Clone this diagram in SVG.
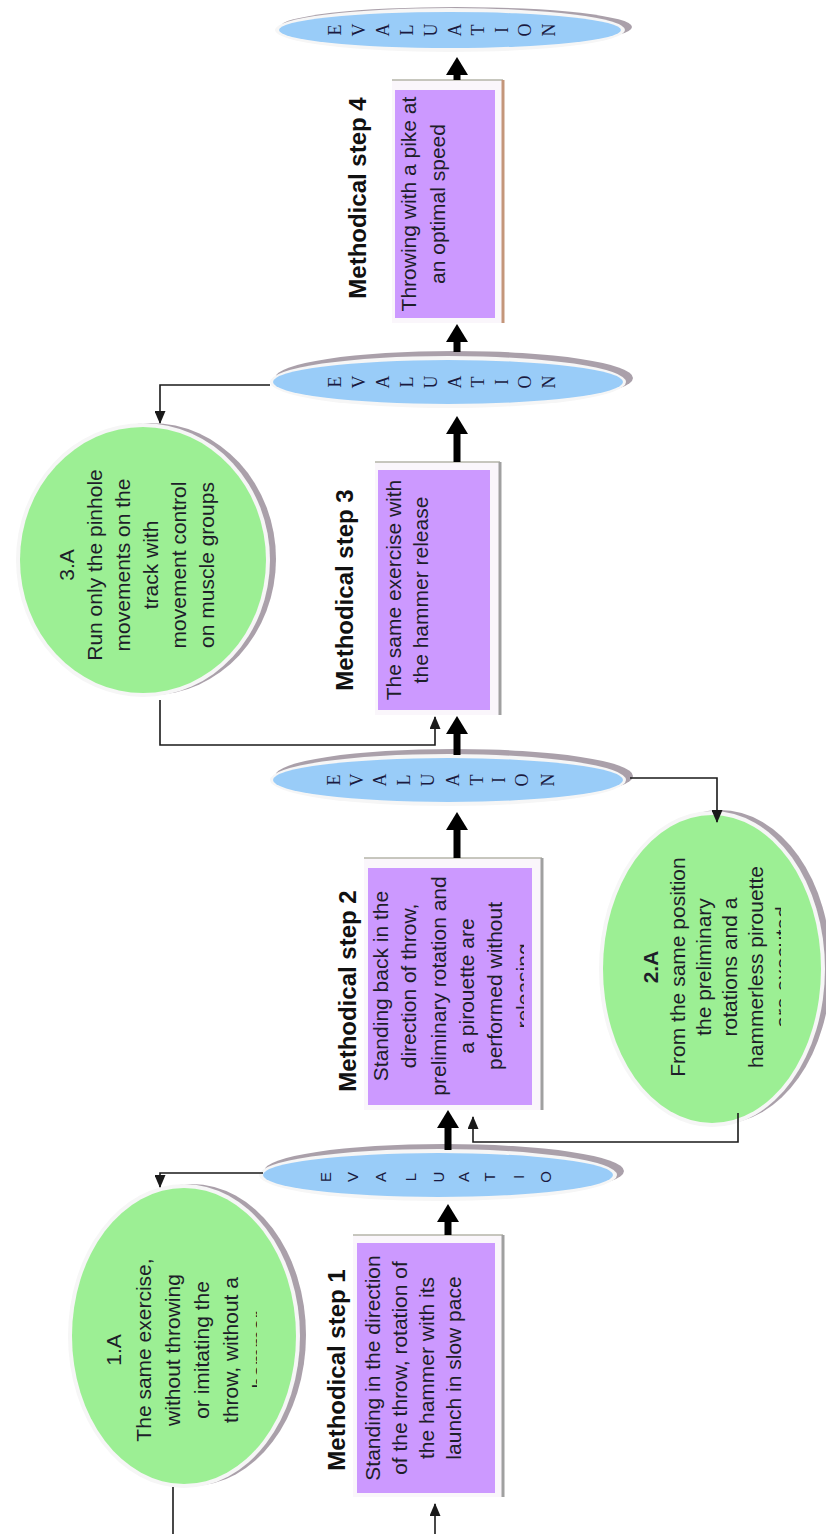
<svg xmlns="http://www.w3.org/2000/svg" width="826" height="1534" viewBox="0 0 826 1534">
<style>
.body{font-family:"Liberation Sans",Arial,sans-serif;font-size:21px;fill:#1e1e2a;text-anchor:middle;dominant-baseline:central}
.lbl{font-family:"Liberation Sans",Arial,sans-serif;font-size:24px;font-weight:bold;fill:#111;text-anchor:middle;dominant-baseline:central}
.ev{font-family:"Liberation Serif","Times New Roman",serif;font-size:18px;fill:#1a1a40;text-anchor:middle;dominant-baseline:central}
.ev2{font-family:"Liberation Sans",Arial,sans-serif;font-size:15px;fill:#1a1a40;text-anchor:middle;dominant-baseline:central}
.purple{fill:#cc99ff}
.frame{fill:#faf6fb}
.edgeT{stroke:#b4b4a8;stroke-width:1.5;fill:none}
.edgeR{stroke:#a0a0a0;stroke-width:3;fill:none}
.green{fill:#9cef94}
.blue{fill:#99ccf8}
.halo{fill:#f6f6f6}
.shadow{fill:#aaa0aa}
.thick{stroke:#000;stroke-width:7;fill:none;marker-end:url(#hThick)}
.thin{stroke:#1a1a1a;stroke-width:1.6;fill:none}
.thinA{marker-end:url(#hThin)}
</style>
<defs>
<marker id="hThick" viewBox="0 0 18 22" refX="8" refY="11" markerWidth="18" markerHeight="22" markerUnits="userSpaceOnUse" orient="auto">
<path d="M0,0 L18,11 L0,22 z" fill="#000"/>
</marker>
<marker id="hThin" viewBox="0 0 13 11" refX="12" refY="5.5" markerWidth="13" markerHeight="11" markerUnits="userSpaceOnUse" orient="auto">
<path d="M0,0 L13,5.5 L0,11 z" fill="#1a1a1a"/>
</marker>
<clipPath id="clipS2" clipPathUnits="userSpaceOnUse"><rect x="0" y="0" width="524" height="1534"/></clipPath>
<clipPath id="clip1A" clipPathUnits="userSpaceOnUse"><rect x="0" y="0" width="257" height="1534"/></clipPath>
<clipPath id="clip2A" clipPathUnits="userSpaceOnUse"><rect x="0" y="0" width="781" height="1534"/></clipPath>
</defs>
<rect width="826" height="1534" fill="#ffffff"/>

<!-- Evaluation ellipses -->
<g id="eval1">
<ellipse class="shadow" cx="456" cy="27" rx="176" ry="20"/>
<ellipse class="halo" cx="450" cy="30" rx="175" ry="22"/>
<ellipse class="blue" cx="450" cy="30" rx="171" ry="18"/>
<g class="ev">
<text transform="translate(335,30) rotate(-90)">E</text>
<text transform="translate(359,30) rotate(-90)">V</text>
<text transform="translate(383,30) rotate(-90)">A</text>
<text transform="translate(407,30) rotate(-90)">L</text>
<text transform="translate(431,30) rotate(-90)">U</text>
<text transform="translate(455,30) rotate(-90)">A</text>
<text transform="translate(478,30) rotate(-90)">T</text>
<text transform="translate(502,30) rotate(-90)">I</text>
<text transform="translate(525,30) rotate(-90)">O</text>
<text transform="translate(549,30) rotate(-90)">N</text>
</g>
</g>

<g id="eval2">
<ellipse class="shadow" cx="454" cy="378" rx="179" ry="27"/>
<ellipse class="halo" cx="448" cy="382" rx="178" ry="26"/>
<ellipse class="blue" cx="448" cy="382" rx="175" ry="22"/>
<g class="ev">
<text transform="translate(335,382) rotate(-90)">E</text>
<text transform="translate(359,382) rotate(-90)">V</text>
<text transform="translate(383,382) rotate(-90)">A</text>
<text transform="translate(407,382) rotate(-90)">L</text>
<text transform="translate(431,382) rotate(-90)">U</text>
<text transform="translate(455,382) rotate(-90)">A</text>
<text transform="translate(478,382) rotate(-90)">T</text>
<text transform="translate(502,382) rotate(-90)">I</text>
<text transform="translate(525,382) rotate(-90)">O</text>
<text transform="translate(549,382) rotate(-90)">N</text>
</g>
</g>

<g id="eval3">
<ellipse class="shadow" cx="454" cy="776" rx="179" ry="27"/>
<ellipse class="halo" cx="448" cy="780" rx="178" ry="26"/>
<ellipse class="blue" cx="448" cy="780" rx="175" ry="22"/>
<g class="ev">
<text transform="translate(334,780) rotate(-90)">E</text>
<text transform="translate(357,780) rotate(-90)">V</text>
<text transform="translate(380,780) rotate(-90)">A</text>
<text transform="translate(404,780) rotate(-90)">L</text>
<text transform="translate(428,780) rotate(-90)">U</text>
<text transform="translate(453,780) rotate(-90)">A</text>
<text transform="translate(477,780) rotate(-90)">T</text>
<text transform="translate(499,780) rotate(-90)">I</text>
<text transform="translate(522,780) rotate(-90)">O</text>
<text transform="translate(548,780) rotate(-90)">N</text>
</g>
</g>

<g id="eval4">
<ellipse class="shadow" cx="444" cy="1171" rx="180" ry="27"/>
<ellipse class="halo" cx="438" cy="1175" rx="179" ry="26"/>
<ellipse class="blue" cx="438" cy="1175" rx="175" ry="22"/>
<g class="ev2">
<text transform="translate(325,1177) rotate(-90)">E</text>
<text transform="translate(352,1177) rotate(-90)">V</text>
<text transform="translate(380,1177) rotate(-90)">A</text>
<text transform="translate(410,1177) rotate(-90)">L</text>
<text transform="translate(438,1177) rotate(-90)">U</text>
<text transform="translate(463,1177) rotate(-90)">A</text>
<text transform="translate(489,1177) rotate(-90)">T</text>
<text transform="translate(518,1177) rotate(-90)">I</text>
<text transform="translate(545,1177) rotate(-90)">O</text>
</g>
</g>

<!-- Method steps -->
<g id="step1">
<rect class="frame" x="353" y="1235" width="150" height="262"/>
<path class="edgeT" d="M353,1235 H503"/>
<path class="edgeR" d="M503,1235 V1497"/>
<rect class="purple" x="357" y="1243" width="138" height="250"/>
<g transform="translate(0,1370) rotate(-90)">
<text class="lbl" x="0" y="336">Methodical step 1</text>
</g>
<g class="body" transform="translate(0,1368) rotate(-90)">
<text x="0" y="372">Standing in the direction</text>
<text x="0" y="399">of the throw, rotation of</text>
<text x="0" y="426">the hammer with its</text>
<text x="0" y="453">launch in slow pace</text>
</g>
</g>

<g id="step2">
<rect class="frame" x="364" y="858" width="178" height="252"/>
<path class="edgeT" d="M364,858 H542"/>
<path class="edgeR" d="M542,858 V1110"/>
<rect class="purple" x="368" y="868" width="164" height="237"/>
<g transform="translate(0,991) rotate(-90)">
<text class="lbl" x="0" y="347">Methodical step 2</text>
</g>
<g clip-path="url(#clipS2)">
<g class="body" transform="translate(0,986) rotate(-90)">
<text x="0" y="380">Standing back in the</text>
<text x="0" y="408">direction of throw,</text>
<text x="0" y="438">preliminary rotation and</text>
<text x="0" y="466">a pirouette are</text>
<text x="0" y="494">performed without</text>
<text x="0" y="523">releasing</text>
</g>
</g>
</g>

<g id="step3">
<rect class="frame" x="375" y="462" width="125" height="253"/>
<path class="edgeT" d="M375,462 H500"/>
<path class="edgeR" d="M500,462 V715"/>
<rect class="purple" x="378" y="470" width="112" height="240"/>
<g transform="translate(0,590) rotate(-90)">
<text class="lbl" x="0" y="344">Methodical step 3</text>
</g>
<g class="body" transform="translate(0,590) rotate(-90)">
<text x="0" y="393">The same exercise with</text>
<text x="0" y="420">the hammer release</text>
</g>
</g>

<g id="step4">
<rect class="frame" x="392" y="80" width="111" height="243"/>
<path class="edgeT" d="M392,80 H503"/>
<path d="M503,80 V323" stroke="#c4967a" stroke-width="3" fill="none"/>
<rect class="purple" x="395" y="90" width="100" height="228"/>
<g transform="translate(0,198) rotate(-90)">
<text class="lbl" x="0" y="357">Methodical step 4</text>
</g>
<g class="body" transform="translate(0,204) rotate(-90)">
<text x="0" y="408">Throwing with a pike at</text>
<text x="0" y="437">an optimal speed</text>
</g>
</g>

<!-- Alternative (green) nodes -->
<g id="alt1A">
<ellipse class="shadow" cx="192" cy="1335" rx="114" ry="151"/>
<ellipse class="halo" cx="184" cy="1336" rx="116" ry="152"/>
<ellipse class="green" cx="184" cy="1336" rx="112" ry="148"/>
<g clip-path="url(#clip1A)">
<g class="body" transform="translate(0,1350) rotate(-90)">
<text x="0" y="113">1.A</text>
<text x="0" y="143">The same exercise,</text>
<text x="0" y="172">without throwing</text>
<text x="0" y="201">or imitating the</text>
<text x="0" y="230">throw, without a</text>
<text x="0" y="259">hammer</text>
</g>
</g>
</g>

<g id="alt2A">
<ellipse class="shadow" cx="720" cy="967" rx="111" ry="157"/>
<ellipse class="halo" cx="712" cy="969" rx="113" ry="158"/>
<ellipse class="green" cx="712" cy="969" rx="109" ry="154"/>
<g clip-path="url(#clip2A)">
<g class="body" transform="translate(0,967) rotate(-90)">
<text x="0" y="650" font-weight="bold">2.A</text>
<text x="0" y="677">From the same position</text>
<text x="0" y="703">the preliminary</text>
<text x="0" y="729">rotations and a</text>
<text x="0" y="755">hammerless pirouette</text>
<text x="0" y="782">are executed</text>
</g>
</g>
</g>

<g id="alt3A">
<ellipse class="shadow" cx="151" cy="559" rx="125" ry="136"/>
<ellipse class="halo" cx="143" cy="560" rx="127" ry="137"/>
<ellipse class="green" cx="143" cy="560" rx="123" ry="133"/>
<g class="body" transform="translate(0,565) rotate(-90)">
<text x="0" y="66">3.A</text>
<text x="0" y="94">Run only the pinhole</text>
<text x="0" y="122">movements on the</text>
<text x="0" y="150">track with</text>
<text x="0" y="178">movement control</text>
<text x="0" y="206">on muscle groups</text>
</g>
</g>

<!-- Connectors -->
<g id="connectors">
<path class="thick" d="M457,80 V67"/>
<path class="thick" d="M457,352 V334"/>
<path class="thick" d="M457,462 V426"/>
<path class="thick" d="M457,755 V726"/>
<path class="thick" d="M457,858 V822"/>
<path class="thick" d="M448,1150 V1120"/>
<path class="thick" d="M448,1235 V1214"/>
<path class="thin thinA" d="M435,1534 V1504"/>
<path class="thin thinA" d="M160,700 V745 H435 V717"/>
<path class="thin thinA" d="M738,1113 V1142 H473 V1117"/>
<path class="thin thinA" d="M270,385 H160 V423"/>
<path class="thin thinA" d="M630,778 H717 V822"/>
<path class="thin thinA" d="M263,1173 H160 V1187"/>
<path class="thin" d="M173,1487 V1534"/>
</g>
</svg>
